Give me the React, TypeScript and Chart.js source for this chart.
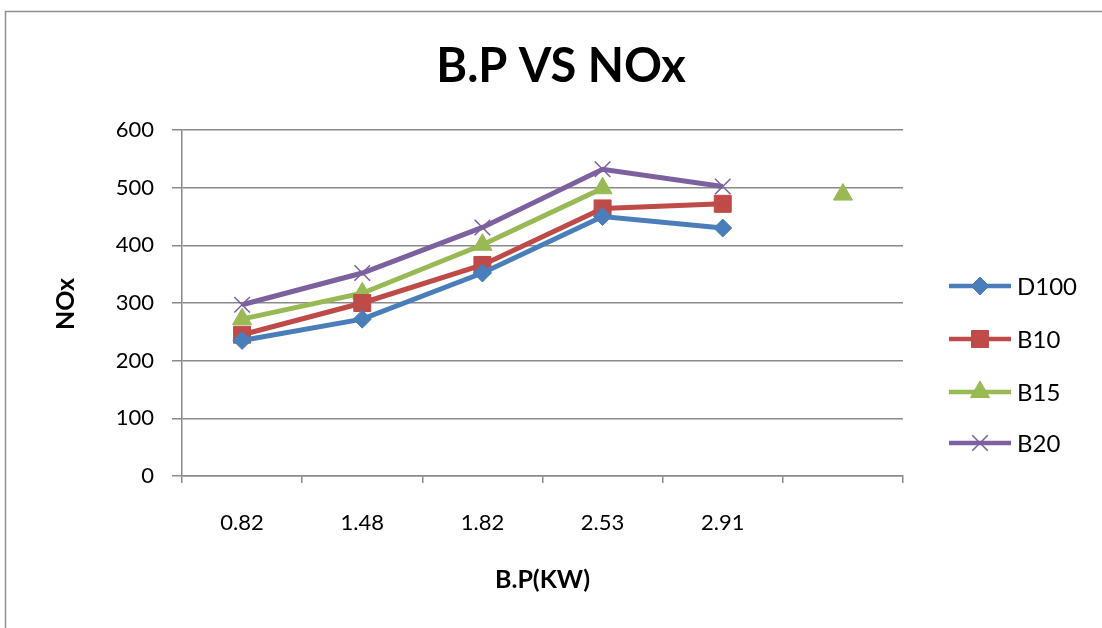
import React, { useEffect, useRef } from "react";
import { Chart, registerables } from "chart.js";

Chart.register(...registerables);

const categories = ["0.82", "1.48", "1.82", "2.53", "2.91", ""];
const d100 = [235, 272, 352, 450, 430, null];
const b10 = [245, 300, 366, 464, 472, null];
const b15 = [272, 317, 401, 499, null, 488];
const b20 = [297, 352, 431, 532, 502, null];
const seriesNames = ["D100", "B10", "B15", "B20"];
const seriesColors = ["#4a7ebb", "#be4b48", "#98b954", "#7d60a0"];
const seriesMarkers = ["rectRot", "rect", "triangle", "crossRot"];
const markerRadius = [9, 12, 11, 11];
const chartTitle = "B.P VS NOx";
const xTitle = "B.P(KW)";
const yTitle = "NOx";

const FONT = "Lato, 'Open Sans', sans-serif";

function drawPointLocal(ctx: CanvasRenderingContext2D, o: any, x: number, y: number) {
  const r = o.radius;
  ctx.beginPath();
  switch (o.pointStyle) {
    case "rectRot":
      ctx.moveTo(x, y - r);
      ctx.lineTo(x + r, y);
      ctx.lineTo(x, y + r);
      ctx.lineTo(x - r, y);
      ctx.closePath();
      ctx.fill();
      ctx.stroke();
      break;
    case "rect": {
      const s = Math.SQRT1_2 * r;
      ctx.rect(x - s, y - s, 2 * s, 2 * s);
      ctx.fill();
      ctx.stroke();
      break;
    }
    case "triangle": {
      ctx.moveTo(x, y - r);
      ctx.lineTo(x + r * Math.sin(Math.PI / 3), y + r / 2);
      ctx.lineTo(x - r * Math.sin(Math.PI / 3), y + r / 2);
      ctx.closePath();
      ctx.fill();
      ctx.stroke();
      break;
    }
    case "crossRot": {
      const s = Math.SQRT1_2 * r;
      ctx.moveTo(x - s, y - s);
      ctx.lineTo(x + s, y + s);
      ctx.moveTo(x - s, y + s);
      ctx.lineTo(x + s, y - s);
      ctx.stroke();
      break;
    }
  }
}

const decorPlugin = {
  id: "decor",
  beforeDraw(chart: any) {
    const ctx = chart.ctx;
    ctx.save();
    ctx.fillStyle = "#ffffff";
    ctx.fillRect(0, 0, chart.width, chart.height);
    ctx.strokeStyle = "#8f8f8f";
    ctx.lineWidth = 1.5;
    ctx.strokeRect(5.5, 11.5, chart.width + 20, chart.height + 20);
    ctx.restore();
  },
  afterDraw(chart: any) {
    const ctx = chart.ctx;
    const area = chart.chartArea;
    ctx.save();
    ctx.fillStyle = "#000000";
    ctx.textAlign = "center";
    ctx.textBaseline = "middle";
    ctx.font = `bold 47px ${FONT}`;
    ctx.fillText(chartTitle, 561, 67);
    ctx.font = `bold 25px ${FONT}`;
    ctx.fillText(xTitle, (area.left + area.right) / 2, 580);
    ctx.save();
    ctx.translate(66, 304);
    ctx.rotate(-Math.PI / 2);
    ctx.font = `bold 25px ${FONT}`;
    ctx.fillText(yTitle, 0, 0);
    ctx.restore();

    // legend
    const ys = [286, 339, 392, 443];
    chart.data.datasets.forEach((ds: any, i: number) => {
      const y = ys[i];
      ctx.strokeStyle = ds.borderColor;
      ctx.lineWidth = 4.5;
      ctx.beginPath();
      ctx.moveTo(949, y);
      ctx.lineTo(1011, y);
      ctx.stroke();
      ctx.fillStyle = ds.pointBackgroundColor;
      ctx.strokeStyle = ds.pointBorderColor;
      ctx.lineWidth = ds.pointBorderWidth;
      drawPointLocal(
        ctx,
        { pointStyle: ds.pointStyle, radius: ds.pointRadius },
        980,
        y
      );
      ctx.fillStyle = "#000000";
      ctx.textAlign = "left";
      ctx.textBaseline = "middle";
      ctx.font = `24px ${FONT}`;
      ctx.fillText(ds.label, 1017, y + 1);
    });
    ctx.restore();
  },
};

export default function App() {
  const ref = useRef<HTMLCanvasElement | null>(null);
  useEffect(() => {
    if (!ref.current) return;
    const values = [d100, b10, b15, b20];
    const chart = new Chart(ref.current, {
      type: "line",
      data: {
        labels: categories,
        datasets: values.map((v, i) => ({
          label: seriesNames[i],
          data: v,
          borderColor: seriesColors[i],
          backgroundColor: seriesColors[i],
          pointBackgroundColor: seriesColors[i],
          pointBorderColor: seriesColors[i],
          pointStyle: seriesMarkers[i] as any,
          pointRadius: markerRadius[i],
          pointBorderWidth: i === 3 ? 1.5 : 1,
          borderWidth: 5,
          tension: 0,
          spanGaps: false,
          fill: false,
        })),
      },
      plugins: [decorPlugin],
      options: {
        responsive: false,
        animation: false,
        layout: { padding: { left: 0, top: 130, right: 199, bottom: 0 } },
        plugins: {
          legend: { display: false },
          title: { display: false },
          tooltip: { enabled: false },
        },
        scales: {
          x: {
            type: "category",
            offset: true,
            afterFit: (s: any) => {
              s.height = 152;
            },
            grid: {
              offset: true,
              drawOnChartArea: false,
              drawTicks: true,
              tickLength: 7,
              color: "#8a8a8a",
              lineWidth: 1.5,
            },
            border: { color: "#8a8a8a", width: 1.5 },
            ticks: {
              color: "#000000",
              font: { family: FONT, size: 22 },
              padding: 27,
              maxRotation: 0,
              autoSkip: false,
            },
          },
          y: {
            min: 0,
            max: 600,
            afterFit: (s: any) => {
              s.width = 182;
            },
            ticks: {
              stepSize: 100,
              color: "#000000",
              font: { family: FONT, size: 22 },
              padding: 18,
            },
            grid: {
              color: "#8a8a8a",
              lineWidth: 1.5,
              tickLength: 10,
            },
            border: { color: "#8a8a8a", width: 1.5 },
          },
        },
      },
    });
    return () => chart.destroy();
  }, []);
  return (
    <canvas
      ref={ref}
      width={1102}
      height={628}
      style={{ position: "fixed", left: 0, top: 0, width: 1102, height: 628 }}
    />
  );
}
